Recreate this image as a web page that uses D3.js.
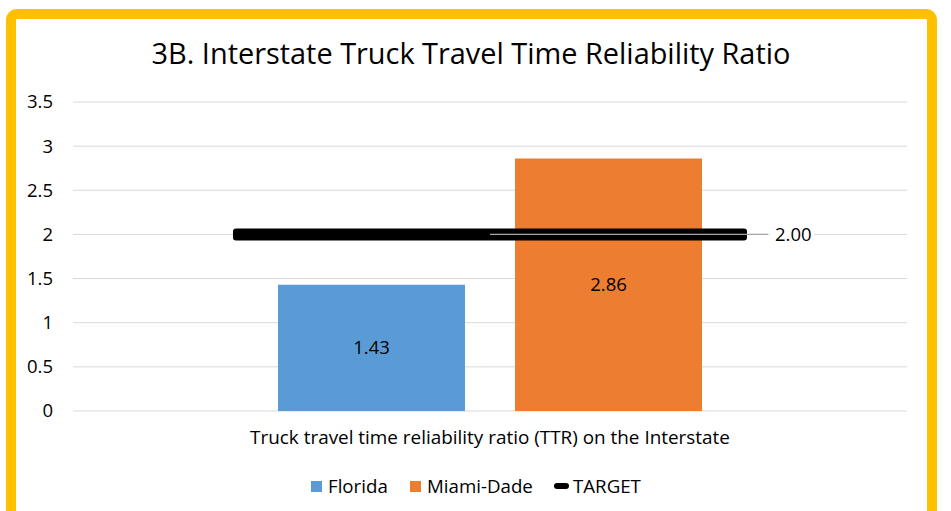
<!DOCTYPE html>
<html>
<head>
<meta charset="utf-8">
<script src="https://cdn.jsdelivr.net/npm/d3@7"></script>
<style>
  html, body { margin: 0; padding: 0; background: #fff; }
  svg { display: block; font-family: "Open Sans", Lato, sans-serif; }
</style>
</head>
<body>
<svg id="chart" width="951" height="511"></svg>
<script>
const categories = ["Truck travel time reliability ratio (TTR) on the Interstate"];
const seriesNames = ["Florida", "Miami-Dade"];
const seriesValues = [1.43, 2.86];
const seriesColors = ["#5B9BD5", "#ED7D31"];
const targetValue = 2.00;
const yTicks = [0, 0.5, 1, 1.5, 2, 2.5, 3, 3.5];
const title = "3B. Interstate Truck Travel Time Reliability Ratio";

const svg = d3.select("#chart");
const FONT = "'Open Sans', Lato, sans-serif";

// yellow rounded frame
svg.append("rect")
  .attr("x", 11).attr("y", 14).attr("width", 921).attr("height", 520)
  .attr("rx", 6).attr("ry", 6)
  .attr("fill", "#fff").attr("stroke", "#FFC000").attr("stroke-width", 10);

const plot = { left: 73, right: 907, top: 102, bottom: 411 };

const y = d3.scaleLinear().domain([0, 3.5]).range([plot.bottom, plot.top]);
const x0 = d3.scaleBand().domain(categories).range([plot.left, plot.right]);
const x1 = d3.scaleBand().domain(seriesNames)
  .range([x0(categories[0]) + 205, x0(categories[0]) + x0.bandwidth() - 205])
  .paddingInner(0.211);

// title
svg.append("text")
  .attr("x", 471).attr("y", 64)
  .attr("text-anchor", "middle")
  .attr("font-size", 28.9)
  .attr("fill", "#000")
  .text(title);

// gridlines
svg.append("g").selectAll("line").data(yTicks).join("line")
  .attr("x1", plot.left).attr("x2", plot.right)
  .attr("y1", d => y(d)).attr("y2", d => y(d))
  .attr("stroke", "#D9D9D9").attr("stroke-width", 1);

// y axis via d3 axis
const yAxis = d3.axisLeft(y).tickValues(yTicks).tickSize(0).tickPadding(0)
  .tickFormat(d => String(d));
const ya = svg.append("g").attr("transform", `translate(${plot.left - 20},0)`).call(yAxis);
ya.select(".domain").remove();
ya.selectAll("text").attr("font-size", 18.5).attr("fill", "#000")
  .attr("font-family", FONT);

// bars
const bars = svg.append("g");
seriesNames.forEach((s, i) => {
  const v = seriesValues[i];
  bars.append("rect")
    .attr("x", x1(s)).attr("width", x1.bandwidth())
    .attr("y", y(v)).attr("height", y(0) - y(v))
    .attr("fill", seriesColors[i]);
  bars.append("text")
    .attr("x", x1(s) + x1.bandwidth() / 2)
    .attr("y", (y(v) + y(0)) / 2)
    .attr("dy", "0.35em")
    .attr("text-anchor", "middle")
    .attr("font-size", 18.5).attr("fill", "#000")
    .text(v.toFixed(2));
});

// target line
const cx = x0(categories[0]) + x0.bandwidth() / 2;
const tHalf = 257;
svg.append("rect")
  .attr("x", cx - tHalf).attr("width", 2 * tHalf)
  .attr("y", y(targetValue) - 6).attr("height", 12)
  .attr("rx", 3).attr("ry", 3)
  .attr("fill", "#000");
// leader line for label
svg.append("line")
  .attr("x1", cx).attr("x2", cx + 278)
  .attr("y1", y(targetValue)).attr("y2", y(targetValue))
  .attr("stroke", "#A6A6A6").attr("stroke-width", 1.2);
svg.append("rect")
  .attr("x", cx + 280).attr("y", y(targetValue) - 10).attr("width", 44).attr("height", 20)
  .attr("fill", "#fff");
svg.append("text")
  .attr("x", cx + 285).attr("y", y(targetValue)).attr("dy", "0.35em")
  .attr("font-size", 18.5).attr("fill", "#000")
  .text(targetValue.toFixed(2));

// x axis category label
svg.append("text")
  .attr("x", cx).attr("y", 444)
  .attr("text-anchor", "middle")
  .attr("font-size", 18.9).attr("fill", "#000")
  .text(categories[0]);

// legend
const legendY = 486;
const leg = svg.append("g");
const legItems = [
  { name: seriesNames[0], color: seriesColors[0], type: "rect", x: 311 },
  { name: seriesNames[1], color: seriesColors[1], type: "rect", x: 410 },
  { name: "TARGET", color: "#000", type: "line", x: 554 }
];
legItems.forEach(d => {
  if (d.type === "rect") {
    leg.append("rect").attr("x", d.x).attr("y", legendY - 5).attr("width", 11).attr("height", 11)
      .attr("fill", d.color);
    leg.append("text").attr("x", d.x + 17).attr("y", legendY).attr("dy", "0.35em")
      .attr("font-size", 18.7).attr("fill", "#000").text(d.name);
  } else {
    leg.append("line").attr("x1", d.x + 3).attr("x2", d.x + 12)
      .attr("y1", legendY).attr("y2", legendY)
      .attr("stroke", d.color).attr("stroke-width", 6).attr("stroke-linecap", "round");
    leg.append("text").attr("x", d.x + 19).attr("y", legendY).attr("dy", "0.35em")
      .attr("font-size", 18.7).attr("fill", "#000").text(d.name);
  }
});
</script>
</body>
</html>
